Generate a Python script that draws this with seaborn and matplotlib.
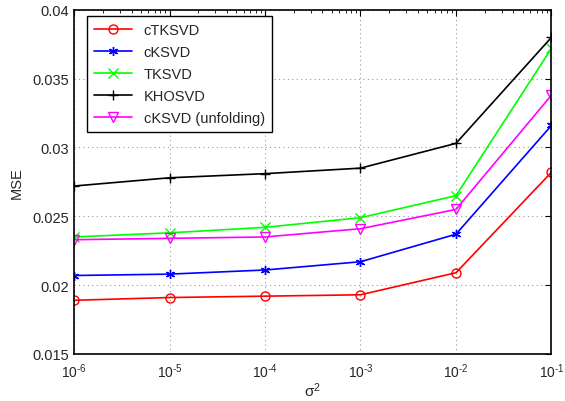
import numpy as np
import pandas as pd
import seaborn as sns
import matplotlib
matplotlib.use("Agg")
import matplotlib.pyplot as plt
from matplotlib.ticker import LogLocator, FixedLocator, FixedFormatter, NullFormatter

sigma2 = [1e-6, 1e-5, 1e-4, 1e-3, 1e-2, 1e-1]
xtick_labels = ["10$^{\u20106}$", "10$^{\u20105}$", "10$^{\u20104}$",
                "10$^{\u20103}$", "10$^{\u20102}$", "10$^{\u20101}$"]
series_names = ["cTKSVD", "cKSVD", "TKSVD", "KHOSVD", "cKSVD (unfolding)"]
ctksvd = [0.0189, 0.0191, 0.0192, 0.0193, 0.0209, 0.0282]
cksvd = [0.0207, 0.0208, 0.0211, 0.0217, 0.0237, 0.0316]
tksvd = [0.0235, 0.0238, 0.0242, 0.0249, 0.0265, 0.0372]
khosvd = [0.0272, 0.0278, 0.0281, 0.0285, 0.0303, 0.0380]
cksvd_unf = [0.0233, 0.0234, 0.0235, 0.0241, 0.0255, 0.0338]
yticks = [0.015, 0.02, 0.025, 0.03, 0.035, 0.04]
ytick_labels = ["0.015", "0.02", "0.025", "0.03", "0.035", "0.04"]

values = [ctksvd, cksvd, tksvd, khosvd, cksvd_unf]
colors = ["#ff0000", "#0000ff", "#00ff00", "#000000", "#ff00ff"]
markers = ["o", (6, 2, 0), "x", "+", "v"]
filled = [False, True, True, True, False]

sns.set_theme(style="white")
plt.rcParams["font.family"] = ["Liberation Sans", "DejaVu Sans"]
plt.rcParams["mathtext.fontset"] = "custom"
plt.rcParams["mathtext.rm"] = "Liberation Sans"
plt.rcParams["mathtext.it"] = "Liberation Sans"
plt.rcParams["mathtext.bf"] = "Liberation Sans:bold"
plt.rcParams["mathtext.default"] = "regular"

fig = plt.figure(figsize=(5.65, 4.02), dpi=100)
ax = fig.add_axes([0.131, 0.117, 0.845, 0.856])

for name, vals, c, m, f in zip(series_names, values, colors, markers, filled):
    kw = dict(markerfacecolor="none", markeredgecolor=c) if not f else dict(markeredgecolor=c)
    sns.lineplot(x=sigma2, y=vals, ax=ax, color=c, marker=m, markersize=6.5,
                 linewidth=1.2, markeredgewidth=1.0, label=name, **kw)

ax.set_xscale("log")
ax.set_xlim(1e-6, 1e-1)
ax.set_ylim(0.015, 0.04)
ax.yaxis.set_major_locator(FixedLocator(yticks))
ax.yaxis.set_major_formatter(FixedFormatter(ytick_labels))
ax.xaxis.set_major_locator(FixedLocator(sigma2))
ax.xaxis.set_major_formatter(FixedFormatter(xtick_labels))
ax.xaxis.set_minor_locator(LogLocator(base=10, subs=np.arange(2, 10), numticks=20))
ax.xaxis.set_minor_formatter(NullFormatter())

ax.grid(True, which="major", linestyle=(0, (1, 3)), color="#999999", linewidth=0.8)
ax.tick_params(which="both", direction="in", top=True, right=True, labelsize=10.5,
               color="black")
ax.tick_params(axis="x", pad=5, labelsize=10)
ax.tick_params(which="major", length=4, width=0.8)
ax.tick_params(which="minor", length=2, width=0.6)
for s in ax.spines.values():
    s.set_color("black")
    s.set_linewidth(1.2)

ax.set_xlabel(r"$\sigma^2$", fontsize=11, labelpad=1)
ax.set_ylabel("MSE", fontsize=10.5, labelpad=6)

leg = ax.legend(loc="upper left", bbox_to_anchor=(0.027, 0.983), borderaxespad=0,
                fontsize=10.5, frameon=True, fancybox=False,
                edgecolor="black", framealpha=1,
                handlelength=2.6, labelspacing=0.55, borderpad=0.5)
leg.get_frame().set_linewidth(1.0)

fig.savefig("out.png", dpi=100)
